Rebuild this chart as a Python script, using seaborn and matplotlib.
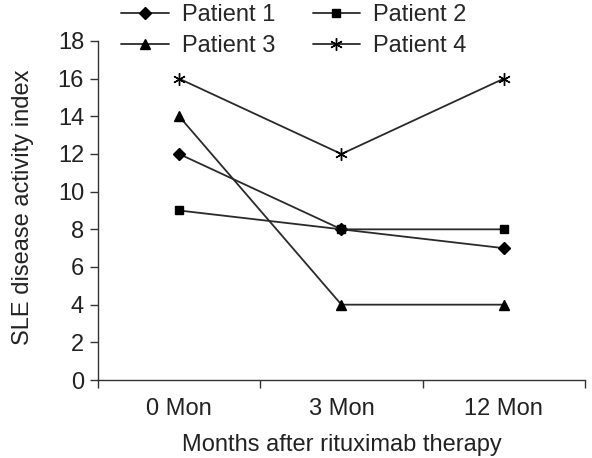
import matplotlib
matplotlib.use("Agg")
import matplotlib.pyplot as plt
import seaborn as sns
import pandas as pd
import numpy as np

months = ["0 Mon", "3 Mon", "12 Mon"]
patient1 = [12, 8, 7]
patient2 = [9, 8, 8]
patient3 = [14, 4, 4]
patient4 = [16, 12, 16]
names = ["Patient 1", "Patient 2", "Patient 3", "Patient 4"]

sns.set_theme(style="ticks")
plt.rcParams['font.family'] = ['Liberation Sans', 'DejaVu Sans']

rows = []
for name, vals in zip(names, [patient1, patient2, patient3, patient4]):
    for i, v in enumerate(vals):
        rows.append({"patient": name, "x": i + 0.5, "value": v})
df = pd.DataFrame(rows)

fig = plt.figure(figsize=(5.92, 4.58), dpi=100)
ax = fig.add_axes([0.1655, 0.1703, 0.8225, 0.7402])

markers = {"Patient 1": "D", "Patient 2": "s", "Patient 3": "^", "Patient 4": (6, 2, 0)}
sizes = {"Patient 1": 6, "Patient 2": 6, "Patient 3": 7, "Patient 4": 9}
mew = {"Patient 1": 1, "Patient 2": 1, "Patient 3": 1, "Patient 4": 1.0}
for name in names:
    sub = df[df.patient == name]
    sns.lineplot(data=sub, x="x", y="value", ax=ax, color="#2a2a2a", lw=1.3,
                 marker=markers[name], markersize=sizes[name],
                 markeredgecolor="black", markerfacecolor="black",
                 markeredgewidth=mew[name], label=name, legend=False)

fs = 17
ax.set_xlim(0, 3)
ax.set_ylim(0, 18)
ax.set_yticks(np.arange(0, 19, 2))
ax.set_xticks([0, 1, 2, 3])
ax.set_xticklabels([])
ax.set_xticks([0.5, 1.5, 2.5], minor=True)
ax.set_xticklabels(months, minor=True)
ax.tick_params(axis="x", which="minor", length=0, pad=13, labelsize=fs, colors="#222222")
ax.tick_params(axis="x", which="major", length=6, width=1, direction="out", color="#333333")
ax.tick_params(axis="y", length=6, width=1, direction="out", labelsize=fs, colors="#222222", pad=4)
ax.tick_params(axis="y", color="#333333")
for s in ["top", "right"]:
    ax.spines[s].set_visible(False)
for s in ["left", "bottom"]:
    ax.spines[s].set_color("#333333")
    ax.spines[s].set_linewidth(1)

ax.set_xlabel("Months after rituximab therapy", fontsize=fs, color="#222222")
ax.set_ylabel("SLE disease activity index", fontsize=fs, color="#222222")
ax.xaxis.set_label_coords(0.5, -0.158)
ax.yaxis.set_label_coords(-0.132, 0.51)

handles, labels = ax.get_legend_handles_labels()
order = [0, 2, 1, 3]
fig.legend([handles[i] for i in order], [labels[i] for i in order], ncol=2,
           loc="upper left", bbox_to_anchor=(0.205, 0.991), frameon=False,
           fontsize=fs, handlelength=2.0, columnspacing=1.6, handletextpad=0.55,
           labelspacing=0.37, borderpad=0, borderaxespad=0)

fig.savefig("out.png", dpi=100)
